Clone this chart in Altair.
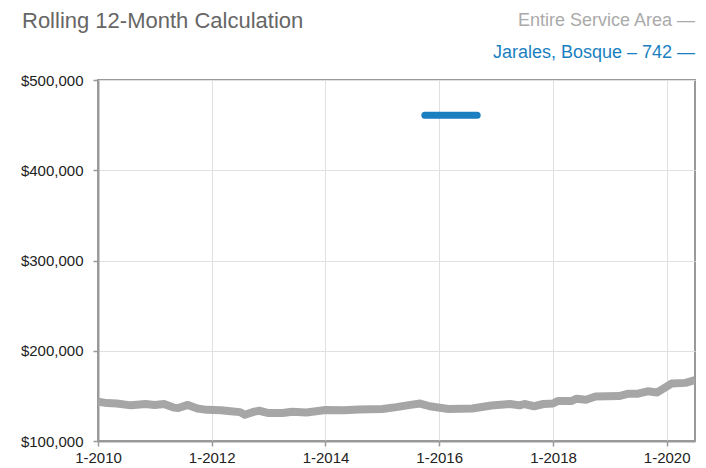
import altair as alt
import pandas as pd

# ---- data ----
area_dates = ["2010-01-01","2010-03-01","2010-05-01","2010-08-01","2010-11-01",
              "2011-01-01","2011-03-01","2011-05-01","2011-06-01","2011-08-01","2011-10-01","2011-12-01",
              "2012-03-01","2012-05-01","2012-07-01","2012-08-01","2012-10-01","2012-11-01",
              "2013-01-01","2013-04-01","2013-06-01","2013-09-01",
              "2014-01-01","2014-05-01","2014-08-01",
              "2015-01-01","2015-04-01","2015-07-01","2015-09-01","2015-11-01",
              "2016-03-01","2016-08-01","2016-12-01",
              "2017-04-01","2017-06-01","2017-07-01","2017-09-01","2017-11-01",
              "2018-01-01","2018-02-01","2018-05-01","2018-06-01","2018-08-01","2018-10-01",
              "2019-03-01","2019-05-01","2019-07-01","2019-09-01","2019-11-01",
              "2020-02-01","2020-05-01","2020-07-01"]
area_values = [143600,142000,141500,139500,141000,
               139800,141000,137000,136500,140000,136000,134500,
               134000,133000,132000,129000,132500,133500,
               131000,131000,132500,131500,
               134300,134000,135000,
               135500,137500,140000,141500,138500,
               135500,136000,139300,
               141000,139500,141000,138500,141000,
               141500,144300,144300,146900,145800,149400,
               149800,152400,152400,155100,153800,
               163600,164400,167400]

local_dates = ["2015-10-01", "2016-09-01"]
local_values = [461000, 461000]

y_ticks = [100000, 200000, 300000, 400000, 500000]
x_tick_years = [2010, 2012, 2014, 2016, 2018, 2020]

title_text = "Rolling 12-Month Calculation"
legend_area = "Entire Service Area  \u2014"
legend_local = "Jarales, Bosque \u2013 742  \u2014"

GRAY = "#a6a6a6"
BLUE = "#1a7fc1"
FONT = "Liberation Sans"

area_df = pd.DataFrame({"date": pd.to_datetime(area_dates), "value": area_values})
local_df = pd.DataFrame({"date": pd.to_datetime(local_dates), "value": local_values})

x_dom = [alt.DateTime(year=2010, month=1, date=1), alt.DateTime(year=2020, month=7, date=1)]
x_vals = [alt.DateTime(year=y, month=1, date=1) for y in x_tick_years]

x_enc = alt.X("date:T", scale=alt.Scale(domain=x_dom),
              axis=alt.Axis(values=x_vals, format="%-m-%Y", title=None, labelFlush=False,
                            labelPadding=4))
y_enc = alt.Y("value:Q", scale=alt.Scale(domain=[100000, 500000], nice=False),
              axis=alt.Axis(values=y_ticks, format="$,.0f", title=None, labelPadding=10))

area_line = alt.Chart(area_df).mark_line(
    color=GRAY, strokeWidth=8, clip=True, strokeJoin="round"
).encode(x=x_enc, y=y_enc)

local_line = alt.Chart(local_df).mark_line(
    color=BLUE, strokeWidth=7, strokeCap="round", clip=True
).encode(x=x_enc, y=y_enc)

title_mark = alt.Chart(pd.DataFrame({"t": [title_text]})).mark_text(
    align="left", baseline="alphabetic", fontSize=22, color="#666666", font=FONT
).encode(x=alt.value(-76), y=alt.value(-52), text="t:N")

leg1 = alt.Chart(pd.DataFrame({"t": [legend_area]})).mark_text(
    align="right", baseline="middle", fontSize=18, color="#aaaaaa", font=FONT
).encode(x=alt.value(597), y=alt.value(-59), text="t:N")

leg2 = alt.Chart(pd.DataFrame({"t": [legend_local]})).mark_text(
    align="right", baseline="middle", fontSize=18, color=BLUE, font=FONT
).encode(x=alt.value(597), y=alt.value(-27), text="t:N")

chart = alt.layer(area_line, local_line, title_mark, leg1, leg2).properties(
    width=597, height=361,
    autosize=alt.AutoSizeParams(type="none"),
    padding={"left": 90, "top": 72, "right": 3, "bottom": 25},
).configure_view(
    stroke="#999999", strokeWidth=2
).configure_axis(
    labelFont=FONT, labelFontSize=15, labelColor="#222222",
    domainColor="#999999", domainWidth=2,
    tickColor="#999999", tickSize=5, tickWidth=1.5,
    gridColor="#e0e0e0", gridWidth=1,
)

chart.save("out.html", embed_options={"renderer": "svg", "actions": False})
